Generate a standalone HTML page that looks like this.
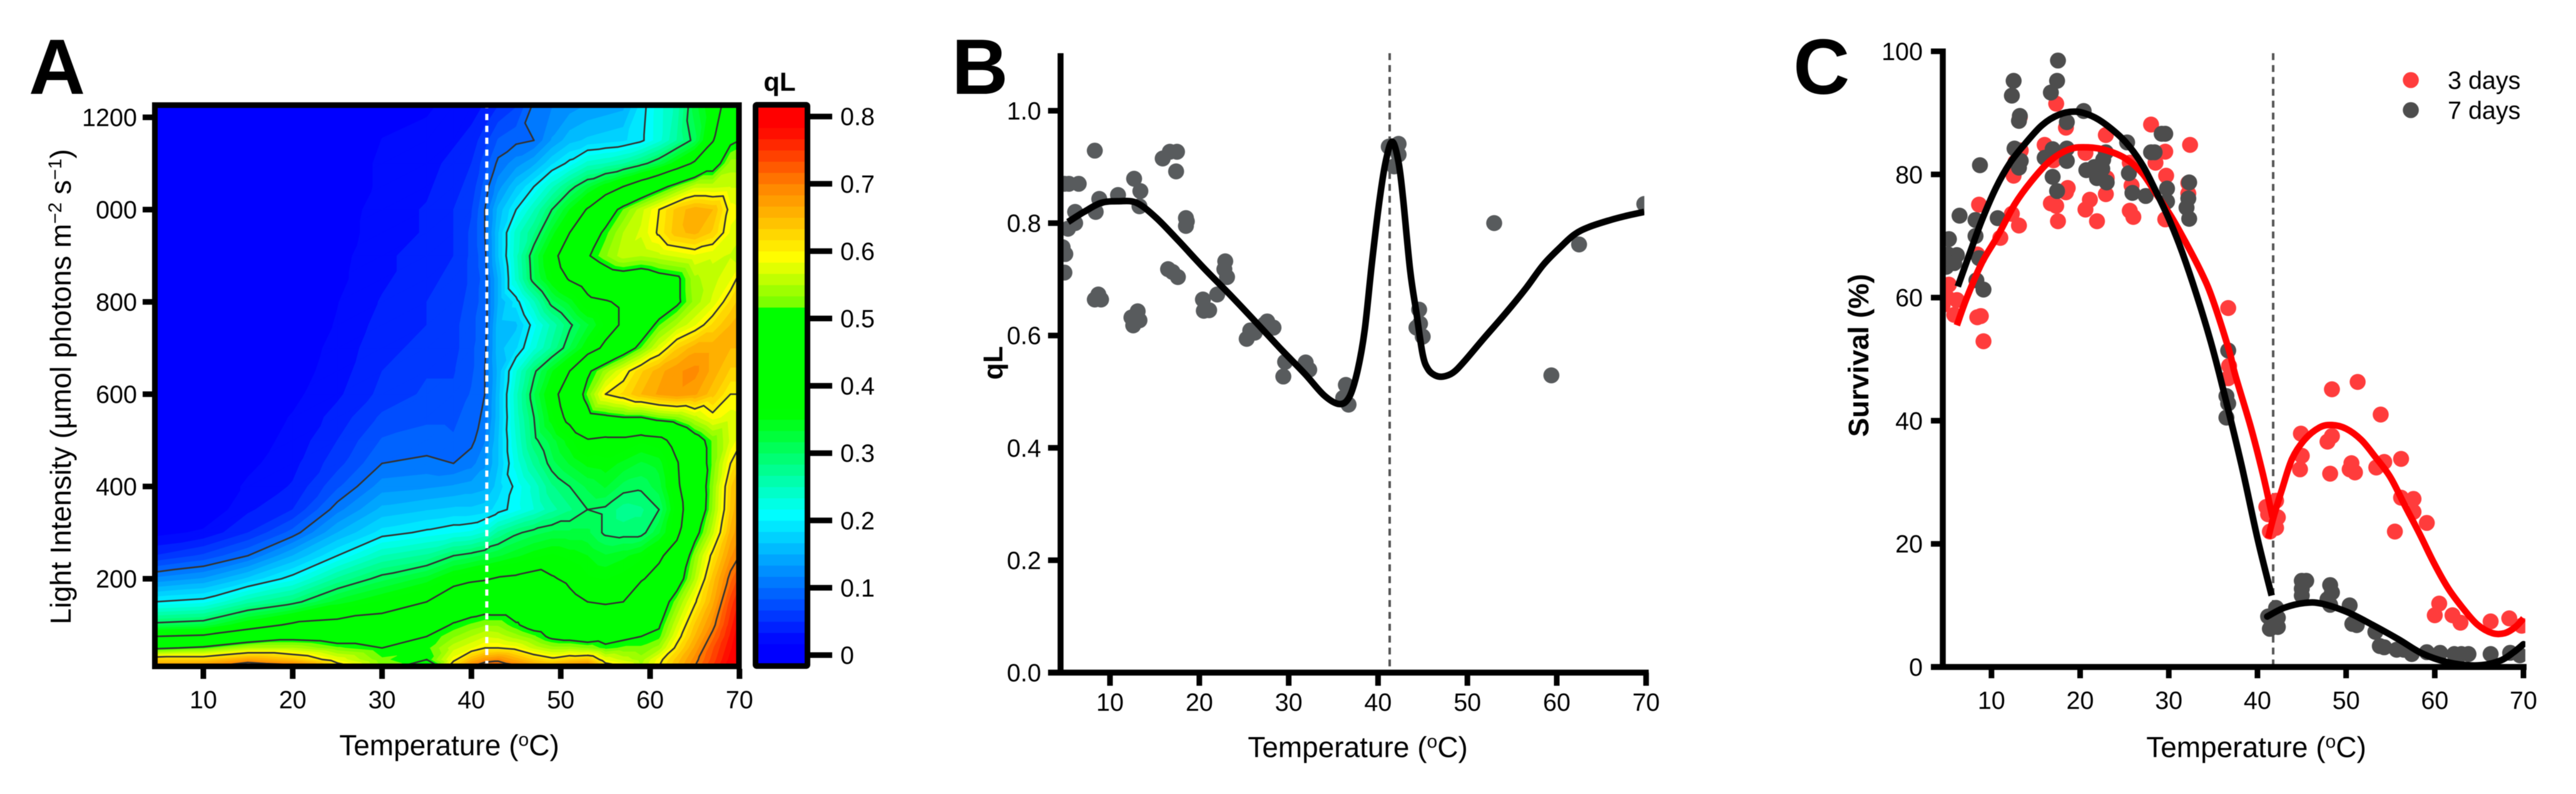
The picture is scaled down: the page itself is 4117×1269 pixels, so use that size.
<!DOCTYPE html>
<html lang="en">
<head>
<meta charset="utf-8">
<title>qL and survival versus temperature</title>
<style>
html,body{margin:0;padding:0;background:#fff;}
svg{display:block;filter:blur(0.6px);}
text{font-family:"Liberation Sans",Arial,sans-serif;fill:#000;}
</style>
</head>
<body>
<svg id="fig" xmlns="http://www.w3.org/2000/svg" width="4117" height="1269" viewBox="0 0 4117 1269">
  <defs>
    <clipPath id="clipA"><rect x="250" y="171" width="928" height="891"/></clipPath>
    <clipPath id="clipB"><rect x="1695" y="60" width="933" height="1015"/></clipPath>
    <clipPath id="clipC"><rect x="3105" y="40" width="931" height="1026"/></clipPath>
  </defs>
  <g id="panelA">
    <text x="46" y="150" font-size="125" font-weight="bold">A</text>
    <g id="heat" clip-path="url(#clipA)"></g>
    <g id="contours" clip-path="url(#clipA)"></g>
    <line x1="778" y1="163" x2="778" y2="1069" stroke="#fff" stroke-width="5" stroke-dasharray="10 9"/>
    <rect x="247.5" y="168" width="933.5" height="897" fill="none" stroke="#000" stroke-width="9"/>
    <g id="axesA"></g>
    <text x="718" y="1207" font-size="46" text-anchor="middle">Temperature (<tspan dy="-15" font-size="30">o</tspan><tspan dy="15">C)</tspan></text>
    <text transform="translate(113,618) rotate(-90)" font-size="46" text-anchor="middle">Light Intensity (µmol photons m<tspan dy="-15" font-size="30">−2</tspan><tspan dy="15"> s</tspan><tspan dy="-15" font-size="30">−1</tspan><tspan dy="15">)</tspan></text>
    <g id="colorbar"></g>
    <rect x="1207.5" y="167.5" width="83" height="897" rx="2" fill="none" stroke="#000" stroke-width="9"/>
    <g id="axesBar"></g>
    <text x="1246" y="145" font-size="42" font-weight="bold" text-anchor="middle">qL</text>
  </g>
  <g id="panelB">
    <text x="1521" y="150" font-size="125" font-weight="bold">B</text>
    <line x1="2221" y1="85" x2="2221" y2="1072" stroke="#555" stroke-width="4" stroke-dasharray="11 8"/>
    <g id="marksB" clip-path="url(#clipB)"></g>
    <g id="axesB"></g>
    <text x="2170" y="1210" font-size="46" text-anchor="middle">Temperature (<tspan dy="-15" font-size="30">o</tspan><tspan dy="15">C)</tspan></text>
    <text transform="translate(1602,580) rotate(-90)" font-size="44" font-weight="bold" text-anchor="middle">qL</text>
  </g>
  <g id="panelC">
    <text x="2866" y="150" font-size="125" font-weight="bold">C</text>
    <line x1="3633" y1="85" x2="3633" y2="1070" stroke="#555" stroke-width="4" stroke-dasharray="11 8"/>
    <g id="marksC" clip-path="url(#clipC)"></g>
    <g id="axesC"></g>
    <text x="3606" y="1210" font-size="46" text-anchor="middle">Temperature (<tspan dy="-15" font-size="30">o</tspan><tspan dy="15">C)</tspan></text>
    <text transform="translate(2986,568) rotate(-90)" font-size="45.5" font-weight="bold" text-anchor="middle">Survival (%)</text>
    <g>
      <circle cx="3853" cy="128" r="12.8" fill="#ff3c3c"/>
      <text x="3912" y="142" font-size="39.5">3 days</text>
      <circle cx="3853" cy="176" r="12.8" fill="#4d4d4d"/>
      <text x="3912" y="190" font-size="39.5">7 days</text>
    </g>
  </g>
</svg>
<script>
// ---------- Panel A data ----------
const heatTemps = [4.5,10,15,20,25,30,35,38,40,41.5,43,45,47,49,51,53,55,57,59,61,63,65,67,69,70];
const heatLights = [10,25,50,75,100,150,200,250,300,350,400,450,500,550,600,650,700,750,800,850,900,950,1000,1050,1100,1150,1225];
// one array per temperature, values running from lowest to highest light level
const heatValues = [
[.68,.63,.49,.40,.31,.20,.12,.05,.01,0,0,0,0,0,0,0,0,0,0,0,0,0,0,0,0,0,0],
[.69,.63,.51,.41,.32,.21,.135,.07,.02,0,0,0,0,0,0,0,0,0,0,0,0,0,0,0,0,0,0],
[.74,.67,.55,.45,.37,.26,.17,.10,.05,.03,.02,.012,.008,.005,0,0,0,0,0,0,0,0,0,0,0,0,0],
[.72,.64,.55,.48,.41,.29,.21,.15,.09,.05,.035,.028,.022,.018,.012,.008,.006,.005,.004,.003,.002,.002,0,0,0,0,0],
[.62,.58,.52,.47,.42,.34,.27,.20,.15,.11,.08,.06,.05,.04,.03,.025,.022,.018,.016,.012,.01,.008,.006,.004,.004,.004,.002],
[.53,.52,.50,.47,.43,.37,.31,.25,.19,.155,.125,.10,.085,.07,.055,.05,.045,.04,.035,.03,.03,.025,.025,.02,.02,.017,.012],
[.46,.50,.51,.50,.47,.40,.34,.27,.205,.165,.13,.105,.09,.08,.07,.065,.055,.05,.05,.045,.04,.035,.035,.03,.025,.02,.015],
[.63,.59,.56,.53,.505,.45,.375,.30,.215,.17,.135,.10,.085,.08,.07,.065,.06,.06,.055,.055,.05,.05,.05,.045,.04,.03,.02],
[.70,.65,.58,.55,.52,.46,.39,.31,.22,.17,.14,.11,.095,.09,.085,.08,.08,.08,.075,.07,.07,.07,.065,.055,.05,.04,.025],
[.73,.68,.60,.565,.53,.465,.395,.32,.235,.175,.145,.13,.115,.105,.10,.10,.095,.09,.09,.09,.095,.10,.10,.09,.075,.06,.035],
[.73,.69,.60,.56,.53,.46,.405,.33,.27,.19,.175,.165,.165,.16,.16,.155,.16,.16,.15,.15,.165,.165,.155,.125,.105,.085,.05],
[.71,.66,.59,.54,.505,.46,.41,.345,.295,.21,.206,.223,.233,.24,.244,.23,.18,.1625,.19,.2375,.244,.24,.20,.165,.125,.095,.065],
[.68,.63,.56,.52,.48,.46,.42,.36,.31,.233,.239,.27,.293,.30,.315,.294,.228,.21,.247,.313,.318,.28,.248,.20,.146,.10,.105],
[.67,.61,.54,.49,.47,.44,.405,.37,.32,.26,.28,.31,.325,.36,.376,.347,.27,.255,.31,.364,.38,.34,.30,.245,.18,.135,.115],
[.69,.63,.54,.48,.46,.415,.39,.36,.32,.28,.30,.335,.36,.42,.443,.40,.317,.295,.34,.405,.437,.40,.35,.288,.207,.16,.125],
[.70,.64,.53,.47,.445,.40,.37,.35,.32,.30,.32,.355,.395,.48,.52,.49,.366,.33,.385,.43,.495,.464,.405,.326,.24,.17,.135],
[.62,.58,.51,.48,.44,.395,.365,.335,.295,.295,.335,.36,.385,.49,.60,.54,.415,.37,.395,.46,.53,.51,.465,.363,.25,.175,.14],
[.60,.56,.52,.49,.45,.40,.375,.345,.29,.275,.31,.345,.385,.50,.62,.585,.465,.41,.41,.47,.56,.55,.517,.40,.265,.18,.145],
[.55,.54,.52,.50,.475,.44,.395,.36,.29,.28,.305,.33,.37,.50,.65,.63,.517,.46,.43,.46,.55,.57,.56,.44,.29,.195,.19],
[.60,.59,.54,.51,.495,.465,.42,.39,.33,.30,.325,.34,.38,.52,.67,.66,.574,.515,.455,.48,.56,.605,.60,.48,.32,.227,.226],
[.65,.64,.61,.585,.565,.527,.47,.43,.385,.375,.39,.395,.425,.53,.68,.68,.63,.55,.49,.49,.57,.645,.64,.52,.364,.267,.256],
[.70,.69,.67,.65,.635,.595,.55,.53,.48,.445,.45,.46,.475,.56,.67,.69,.66,.58,.54,.545,.58,.655,.66,.56,.41,.31,.325],
[.75,.74,.73,.71,.69,.66,.64,.61,.56,.535,.53,.52,.52,.59,.64,.66,.66,.62,.57,.56,.57,.63,.65,.56,.47,.395,.37],
[.80,.79,.78,.77,.76,.74,.71,.68,.655,.635,.63,.60,.57,.575,.60,.63,.65,.65,.62,.58,.565,.58,.59,.565,.54,.49,.43],
[.81,.81,.80,.80,.79,.77,.74,.70,.68,.67,.66,.63,.59,.58,.60,.63,.65,.66,.64,.61,.56,.57,.585,.565,.54,.50,.47]
];
const contourLevels = [0.1,0.2,0.3,0.4,0.5,0.6,0.7];
const barTicks = [0,0.1,0.2,0.3,0.4,0.5,0.6,0.7,0.8];
const barTickLabels = ["0","0.1","0.2","0.3","0.4","0.5","0.6","0.7","0.8"];
const colorStopValues = [0.017,0.21,0.36,0.517,0.5175,0.59,0.70,0.785];
const colorStopR = [0,0,0,0,110,255,255,255];
const colorStopG = [0,255,255,255,255,255,128,0];
const colorStopB = [255,255,0,0,0,0,0,0];
const aTempTicks = [10,20,30,40,50,60,70];
const aLightTicks = [200,400,600,800,1000,1200];
const aLightTickLabels = ["200","400","600","800","000","1200"];

// ---------- Panel B data ----------
const bPointT = [8.3,5.4,6.5,4.9,8.8,10.9,12.7,13.4,13.3,15.9,16.7,17.5,17.4,18.5,18.5,18.6,6.1,8.4,6.1,5.3,4.7,5,4.9,16.5,17,17.6,22.9,22.8,23.1,22,20.4,20.5,21.1,8.7,8.3,9,8.8,12.4,13.1,13.3,12.6,25.7,25.3,26.2,27.6,28.3,27.3,29.6,29.4,31.9,32.3,36.4,36.1,36.7,41.6,42.3,42.3,41.8,41.2,44.6,44.3,44.7,45,53,59.4,62.5,69.8];
const bPointV = [.929,.870,.870,.870,.843,.850,.879,.857,.830,.915,.927,.927,.892,.809,.795,.803,.820,.820,.800,.790,.757,.745,.712,.718,.713,.704,.732,.718,.704,.673,.664,.644,.645,.673,.664,.664,.668,.632,.643,.627,.618,.609,.594,.605,.625,.614,.620,.553,.527,.552,.539,.512,.489,.477,.934,.941,.922,.901,.936,.646,.614,.621,.598,.800,.529,.762,.834];
const bCurveT = [5.3,7.1,9,11,13,15.2,17.7,20.5,23.4,26.2,29,31.8,34,35.7,36.8,37.7,38.5,39.3,40.2,40.9,41.6,42.3,42.8,43.6,44.3,45,45.6,46.4,47.3,48.4,49.6,51.9,54.3,56.6,58.5,60.4,62,63.6,65.9,67.8,69.8];
const bCurveV = [.802,.82,.836,.839,.836,.809,.768,.72,.673,.626,.578,.532,.493,.478,.491,.537,.609,.727,.845,.913,.945,.908,.844,.715,.64,.566,.54,.529,.527,.534,.553,.596,.64,.685,.726,.757,.78,.793,.805,.813,.82];
const bTempTicks = [10,20,30,40,50,60,70];
const bValueTicks = [0,0.2,0.4,0.6,0.8,1.0];
const bValueTickLabels = ["0.0","0.2","0.4","0.6","0.8","1.0"];

// ---------- Panel C data ----------
const threeDayT = [4.7,5.2,4.5,6.1,5.8,5,8.4,8.8,9.1,8.6,8.4,11,12.3,13.1,13.2,12.5,12.7,13.3,17.3,18.4,16,17,16.7,17.3,18.6,18.4,17.5,20.6,21.1,21.9,22.9,22.9,20.6,23,25.6,25.6,26,25.8,28,28.5,29.6,29.7,29.6,32.4,32.2,32.2,36.7,36.8,36.7,41,41.2,42.1,42.3,42.1,41.4,44.9,45,44.8,48.4,51.3,53.9,48.4,47.9,48.2,50.6,50.4,51,53.4,54.3,56.2,56.2,57.6,57.6,59.1,55.5,60.5,60,62,62.9,66.3,68.4,69.8];
const threeDayV = [61.3,62.1,58.8,59.6,57.2,60,56.8,57,52.9,75.1,67,69.7,73.6,71.7,89.3,79.8,82,83.9,91.5,87.6,84.8,82.3,75.3,74.9,77.8,77.1,72.4,74.3,75.9,72.4,86.4,76.8,83.5,79.4,81.9,74.1,73.1,78.2,88.1,81.9,83.7,79.8,72.7,84.8,76.9,78.6,58.3,48.9,46.9,26,24.8,27,24.3,22.6,22,37.9,34.3,32.1,45.1,46.3,41,37.5,36.6,31.4,33.1,32.1,31.6,32.4,33.3,33.8,27.5,27.3,25.2,23.4,22,10.3,8.4,8.4,7.2,7.4,7.9,6.7];
const sevenDayT = [17.5,17.4,16.7,12.5,12.3,13.2,13.1,18.5,20.4,25.3,29.6,29.2,28,28.4,12.6,13.3,13.1,8.7,16.9,16,18.5,18.5,22.9,22.6,22.5,20.7,21.6,21.9,23,16.9,17.4,25.5,25.9,27.4,29.8,29.8,32.3,32.2,32,32.3,6.4,8.2,10.7,8.2,5.2,5.1,6.1,4.9,5.8,8.6,8.3,9.1,36.7,36.5,36.7,36.5,41.2,42.1,41.4,42.3,42.3,45,45.5,45,45,48.2,48.4,47.9,48.2,50.4,50.7,51.2,53.3,53.8,54.3,55.7,56.5,57.4,59.1,60.6,62.2,63,63.8,66.3,68.5,69.6];
const sevenDayV = [98.5,95.2,93.3,95.2,92.8,89.5,88.7,88.5,90.3,85.2,86.6,86.6,83.6,83.6,84.2,82.2,81.1,81.5,84.1,82.7,84.2,82.2,83.6,82.4,80.9,80.7,81.2,79.4,78.7,79.6,77.3,80.2,77,76.5,77.7,75.6,78.7,76.1,74.6,72.8,73.3,72.6,72.9,70,69.5,67,66.9,65,65.6,66.4,62.8,61.3,51.4,44,42.8,40.5,8.2,9.6,6.2,6.5,8,14,14,12.7,11.6,13.3,12.1,11,10.1,10,7,6.8,5.7,3.4,3.2,2.8,2.8,2.1,2.4,2.3,2.1,2.1,2.1,2.1,2.3,1.9];
const redCurveEarlyT = [6.1,7.2,8.9,10.7,12.6,14.5,16.6,18.8,20.9,23,25.1,27,28.6,30.3,31.9,33.6,34.9,36.8,37.5,39.2,40.6,41.7];
const redCurveEarlyV = [55.5,59.9,65.6,70,75.1,78.9,82.2,84.1,84.4,83.9,82.6,80.2,76.8,73.1,69,64.3,59.9,51.4,47.4,39.2,31.4,24.3];
const redCurveLateT = [41.2,41.8,42.8,43.9,45.3,47,48.4,50,51.7,53.3,55,56.6,58.3,59.9,61.5,63.2,64.8,66.5,67.9,69.1,70];
const redCurveLateV = [20.9,24.3,29,33.8,36.9,38.9,39.3,38.7,36.9,34.1,30.8,26.3,21.6,16.9,12.8,9.5,6.9,5.5,5.5,6.5,7.9];
const blackCurveEarlyT = [6.2,7.5,8.9,10.5,12.1,13.8,15.7,17.6,19.5,21.3,23,25.1,27,28.6,30.1,31.5,33.1,34.7,36.1,38.2,40,41.6];
const blackCurveEarlyV = [61.8,67,72.5,77.8,81.9,85,88,89.7,90.2,89.5,88,85.3,81.6,77.1,72.5,67.4,60.6,53,45.3,32.8,20.9,11.6];
const blackCurveLateT = [41.1,43,45.3,47.2,50,52.9,55.9,58.3,60.6,62.9,65.3,67.5,68.9,70];
const blackCurveLateV = [8.2,9.6,10.4,10.3,9,6.9,4.5,2.4,1.1,.4,.3,1.1,2.4,3.7];
const cTempTicks = [10,20,30,40,50,60,70];
const cValueTicks = [0,20,40,60,80,100];

// ---------- Axis functions ----------
const xA = t => 325 + (t - 10) * 14.28;
const yA = l => 925 + (200 - l) * 0.7375;
const yBar = v => 1047 - v * 1076;
const xB = t => 1774 + (t - 10) * 14.28;
const yB = v => 1075 - v * 898;
const xC = t => 4033 + (t - 70) * 14.17;
const yC = v => 1066 - v * 9.84;

const NS = "http://www.w3.org/2000/svg";
function make(tag, parent, attrs) {
  const el = document.createElementNS(NS, tag);
  for (const k in attrs) el.setAttribute(k, attrs[k]);
  parent.appendChild(el);
  return el;
}
function byId(id) { return document.getElementById(id); }

const LEVEL_STEP = 1 / 60;
function colorFor(v) {
  const s = colorStopValues;
  let r, g, b;
  if (v <= s[0]) { r = colorStopR[0]; g = colorStopG[0]; b = colorStopB[0]; }
  else if (v >= s[s.length - 1]) { const n = s.length - 1; r = colorStopR[n]; g = colorStopG[n]; b = colorStopB[n]; }
  else {
    let i = 0;
    while (v > s[i + 1]) i++;
    const f = (v - s[i]) / (s[i + 1] - s[i]);
    r = colorStopR[i] + f * (colorStopR[i + 1] - colorStopR[i]);
    g = colorStopG[i] + f * (colorStopG[i + 1] - colorStopG[i]);
    b = colorStopB[i] + f * (colorStopB[i + 1] - colorStopB[i]);
  }
  return "rgb(" + Math.round(r) + "," + Math.round(g) + "," + Math.round(b) + ")";
}

// ---------- Heatmap triangles ----------
const triangles = [];
for (let i = 0; i < heatTemps.length - 1; i++) {
  for (let j = 0; j < heatLights.length - 1; j++) {
    const p00 = [xA(heatTemps[i]), yA(heatLights[j]), heatValues[i][j]];
    const p10 = [xA(heatTemps[i + 1]), yA(heatLights[j]), heatValues[i + 1][j]];
    const p11 = [xA(heatTemps[i + 1]), yA(heatLights[j + 1]), heatValues[i + 1][j + 1]];
    const p01 = [xA(heatTemps[i]), yA(heatLights[j + 1]), heatValues[i][j + 1]];
    triangles.push([p00, p10, p11]);
    triangles.push([p00, p11, p01]);
  }
}
function polyAbove(tri, t) {
  const out = [];
  for (let i = 0; i < 3; i++) {
    const a = tri[i], b = tri[(i + 1) % 3];
    if (a[2] >= t) out.push(a);
    if ((a[2] >= t) !== (b[2] >= t)) {
      const f = (t - a[2]) / (b[2] - a[2]);
      out.push([a[0] + f * (b[0] - a[0]), a[1] + f * (b[1] - a[1])]);
    }
  }
  return out;
}
function crossings(tri, t) {
  const out = [];
  for (let i = 0; i < 3; i++) {
    const a = tri[i], b = tri[(i + 1) % 3];
    if ((a[2] >= t) !== (b[2] >= t)) {
      const f = (t - a[2]) / (b[2] - a[2]);
      out.push([a[0] + f * (b[0] - a[0]), a[1] + f * (b[1] - a[1])]);
    }
  }
  return out;
}
const heat = byId("heat");
const heatBase = make("rect", heat, { x: 250, y: 170, width: 930, height: 895, fill: colorFor(0.005) });


for (let k = 1; k < 48; k++) {
  const t = k * LEVEL_STEP;
  let d = "";
  for (const tri of triangles) {
    const poly = polyAbove(tri, t);
    if (poly.length < 3) continue;
    d += "M" + poly.map(p => p[0].toFixed(1) + " " + p[1].toFixed(1)).join("L") + "Z";
  }
  if (!d) continue;
  const col = colorFor(t + LEVEL_STEP / 2);
  const band = make("path", heat, { d: d, fill: col, stroke: col, "stroke-width": 0.8 });
  
  
}
const contours = byId("contours");
for (const level of contourLevels) {
  let d = "";
  for (const tri of triangles) {
    const c = crossings(tri, level);
    if (c.length === 2) d += "M" + c[0][0].toFixed(1) + " " + c[0][1].toFixed(1) + "L" + c[1][0].toFixed(1) + " " + c[1][1].toFixed(1);
  }
  const line = make("path", contours, { d: d, fill: "none", stroke: "#333", "stroke-width": 2.6, "stroke-linecap": "round" });
  
  
}

// ---------- Colorbar ----------
const bar = byId("colorbar");
for (let k = 0; k < 48; k++) {
  const top = k === 47 ? 172 : yBar((k + 1) * LEVEL_STEP);
  const bottom = k === 0 ? 1061 : yBar(k * LEVEL_STEP);
  const cell = make("rect", bar, { x: 1212, y: top, width: 74, height: bottom - top + 0.5, fill: colorFor((k + 0.5) * LEVEL_STEP) });
  
  
}

// ---------- Axis helpers ----------
function tickLine(parent, x1, y1, x2, y2) {
  const t = make("line", parent, { x1: x1, y1: y1, x2: x2, y2: y2, stroke: "#000", "stroke-width": 9 });
  
  
}
function tickText(parent, x, y, anchor, str) {
  const t = make("text", parent, { x: x, y: y, "text-anchor": anchor, "font-size": 39.5 });
  t.textContent = str;
  
  
}
function axisLine(parent, x1, y1, x2, y2) {
  const t = make("line", parent, { x1: x1, y1: y1, x2: x2, y2: y2, stroke: "#000", "stroke-width": 9.5 });
  
  
}

// Panel A axes
const axesA = byId("axesA");
aTempTicks.forEach(t => {
  tickLine(axesA, xA(t), 1069, xA(t), 1085);
  tickText(axesA, xA(t), 1132, "middle", String(t));
});
aLightTicks.forEach((l, i) => {
  tickLine(axesA, 228, yA(l), 243, yA(l));
  tickText(axesA, 219, yA(l) + 14, "end", aLightTickLabels[i]);
});
const axesBar = byId("axesBar");
barTicks.forEach((v, i) => {
  tickLine(axesBar, 1295, yBar(v), 1330, yBar(v));
  tickText(axesBar, 1343, yBar(v) + 14, "start", barTickLabels[i]);
});

// Panel B axes
const axesB = byId("axesB");
axisLine(axesB, 1695, 85, 1695, 1079.5);
axisLine(axesB, 1675, 1075, 2635, 1075);
bTempTicks.forEach(t => {
  tickLine(axesB, xB(t), 1075, xB(t), 1096);
  tickText(axesB, xB(t), 1136, "middle", String(t));
});
bValueTicks.forEach((v, i) => {
  tickLine(axesB, 1675, yB(v), 1695, yB(v));
  tickText(axesB, 1664, yB(v) + 14, "end", bValueTickLabels[i]);
});

// Panel C axes
const axesC = byId("axesC");
axisLine(axesC, 3105, 77.5, 3105, 1070.5);
axisLine(axesC, 3086, 1066, 4038, 1066);
cTempTicks.forEach(t => {
  tickLine(axesC, xC(t), 1066, xC(t), 1084);
  tickText(axesC, xC(t), 1133, "middle", String(t));
});
cValueTicks.forEach(v => {
  tickLine(axesC, 3086, yC(v), 3105, yC(v));
  tickText(axesC, 3073, yC(v) + 14, "end", String(v));
});

// ---------- Marks ----------
function smoothPath(ts, vs, xf, yf) {
  const p = ts.map((t, i) => [xf(t), yf(vs[i])]);
  let d = "M" + p[0][0].toFixed(1) + " " + p[0][1].toFixed(1);
  for (let i = 0; i < p.length - 1; i++) {
    const a = p[Math.max(i - 1, 0)], b = p[i], c = p[i + 1], e = p[Math.min(i + 2, p.length - 1)];
    const c1x = b[0] + (c[0] - a[0]) / 6, c1y = b[1] + (c[1] - a[1]) / 6;
    const c2x = c[0] - (e[0] - b[0]) / 6, c2y = c[1] - (e[1] - b[1]) / 6;
    d += "C" + c1x.toFixed(1) + " " + c1y.toFixed(1) + " " + c2x.toFixed(1) + " " + c2y.toFixed(1) + " " + c[0].toFixed(1) + " " + c[1].toFixed(1);
  }
  return d;
}

const marksB = byId("marksB");
bPointT.forEach((t, i) => {
  const dot = make("circle", marksB, { cx: xB(t), cy: yB(bPointV[i]), r: 12.8, fill: "#585b5d" });
  
  
});
const curveB = make("path", marksB, { d: smoothPath(bCurveT, bCurveV, xB, yB), fill: "none", stroke: "#000", "stroke-width": 10.5, "stroke-linejoin": "round" });



const marksC = byId("marksC");
threeDayT.forEach((t, i) => {
  const dot = make("circle", marksC, { cx: xC(t), cy: yC(threeDayV[i]), r: 12.8, fill: "#ff3c3c" });
  
  
});
sevenDayT.forEach((t, i) => {
  const dot = make("circle", marksC, { cx: xC(t), cy: yC(sevenDayV[i]), r: 12.8, fill: "#4d4d4d" });
  
  
});
const redEarly = make("path", marksC, { d: smoothPath(redCurveEarlyT, redCurveEarlyV, xC, yC), fill: "none", stroke: "#f00", "stroke-width": 10.5 });


const redLate = make("path", marksC, { d: smoothPath(redCurveLateT, redCurveLateV, xC, yC), fill: "none", stroke: "#f00", "stroke-width": 10.5 });


const blackEarly = make("path", marksC, { d: smoothPath(blackCurveEarlyT, blackCurveEarlyV, xC, yC), fill: "none", stroke: "#000", "stroke-width": 10.5 });


const blackLate = make("path", marksC, { d: smoothPath(blackCurveLateT, blackCurveLateV, xC, yC), fill: "none", stroke: "#000", "stroke-width": 10.5, "stroke-linecap": "round" });


</script>
</body>
</html>
